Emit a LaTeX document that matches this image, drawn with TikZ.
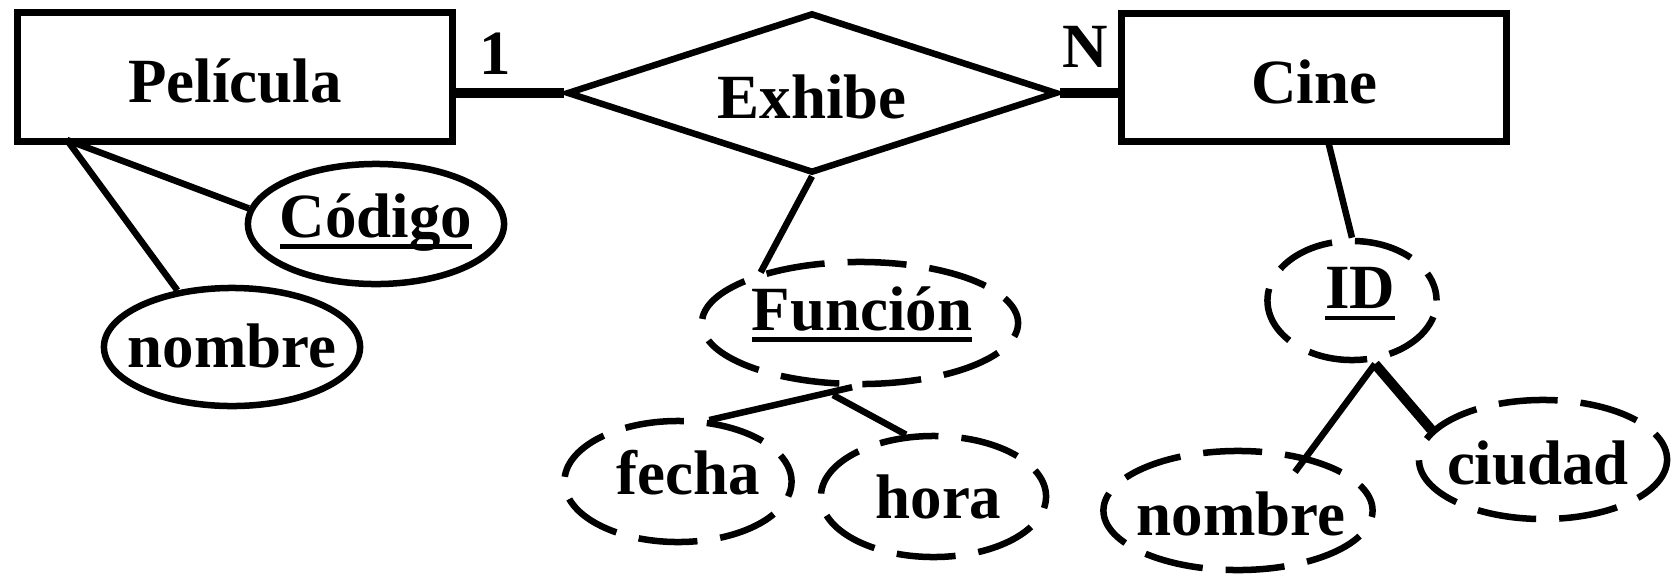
\documentclass[tikz,border=0pt]{standalone}
\usepackage{fontspec}
\setmainfont{Liberation Serif}
\usetikzlibrary{shapes.geometric}
\newcommand\ulbox[1]{\setbox0=\hbox{#1}\rlap{\rule[-0.118cm]{\wd0}{0.045cm}}\box0}
\newcommand\ertx[3]{\makebox[0pt]{\smash{\raisebox{-#2cm}{\kern#1cm\kern#1cm #3}}}}
\begin{document}
\begin{tikzpicture}[x=0.01cm,y=-0.01cm,
  every node/.style={font=\fontsize{17.9pt}{21pt}\selectfont\bfseries},
  ent/.style={draw, rectangle, inner sep=0pt, line width=0.07cm},
  rel/.style={draw, diamond, inner sep=0pt, line width=0.065cm},
  attr/.style={draw, ellipse, inner sep=0pt, line width=0.065cm},
  dattr/.style={attr, dash pattern=on 0.59cm off 0.23cm, dash phase=0.3cm},
  link/.style={line width=0.065cm},
  boldlink/.style={line width=0.1cm},
  card/.style={anchor=base, inner sep=0pt}]
\useasboundingbox (0,0) rectangle (1678,575);
% entities and relationship
\node[ent, minimum width=4.34cm, minimum height=1.28cm] (pel) at (235,77) {\ertx{0}{0.25}{Película}};
\node[rel, minimum width=4.9cm, minimum height=1.6cm] (dia) at (812,93) {\ertx{0}{0.25}{Exhibe}};
\node[ent, minimum width=3.84cm, minimum height=1.27cm] (cine) at (1314,77.5) {\ertx{0}{0.26}{Cine}};
% cardinalities
\node[card] (one) at (495,74) {1};
\node[card] (n) at (1085,67) {N};
% attributes
\node[attr, minimum width=2.56cm, minimum height=1.2cm] (cod) at (376,224) {\ertx{0}{0.13}{\ulbox{Código}}};
\node[attr, minimum width=2.56cm, minimum height=1.18cm] (nom1) at (232,347) {\ertx{0}{0.2}{nombre}};
\node[dattr, minimum width=3.16cm, minimum height=1.22cm] (fun) at (860,323) {\ertx{0.02}{0.07}{\ulbox{Función}}};
\node[dattr, minimum width=2.27cm, minimum height=1.21cm] (fecha) at (678,481.5) {\ertx{0.1}{0.13}{fecha}};
\node[dattr, minimum width=2.25cm, minimum height=1.21cm] (hora) at (933.5,496.5) {\ertx{0.05}{0.22}{hora}};
\node[dattr, minimum width=1.69cm, minimum height=1.19cm] (id) at (1352,300.5) {\ertx{0.08}{0.08}{\ulbox{ID}}};
\node[dattr, minimum width=2.69cm, minimum height=1.19cm] (nom2) at (1238,510.5) {\ertx{0.03}{0.25}{nombre}};
\node[dattr, minimum width=2.48cm, minimum height=1.19cm] (ciu) at (1543,459.5) {\ertx{-0.05}{0.25}{ciudad}};
% connectors
\draw[boldlink] (dia.west) -- (dia.west -| pel.east);
\draw[boldlink] (dia.east) -- (dia.east -| cine.west);
\coordinate (pc) at (67,140);
\draw[link] (pc) -- (cod.173);
\draw[link] (pc) -- (nom1.134);
\draw[link] (dia.south) -- (fun.153);
\draw[link] (fun.263) -- (fecha.63);
\coordinate (fh) at (833,395);
\draw[link] (fh) -- (hora.114);
\coordinate (cs) at (1328,141);
\draw[link] (cs) -- (id.north);
\coordinate (ida) at (1375,364);
\coordinate (n2e) at (1295,472);
\draw[link] (ida) -- (n2e);
\draw[boldlink] (ida) -- (ciu.165);
\end{tikzpicture}
\end{document}
